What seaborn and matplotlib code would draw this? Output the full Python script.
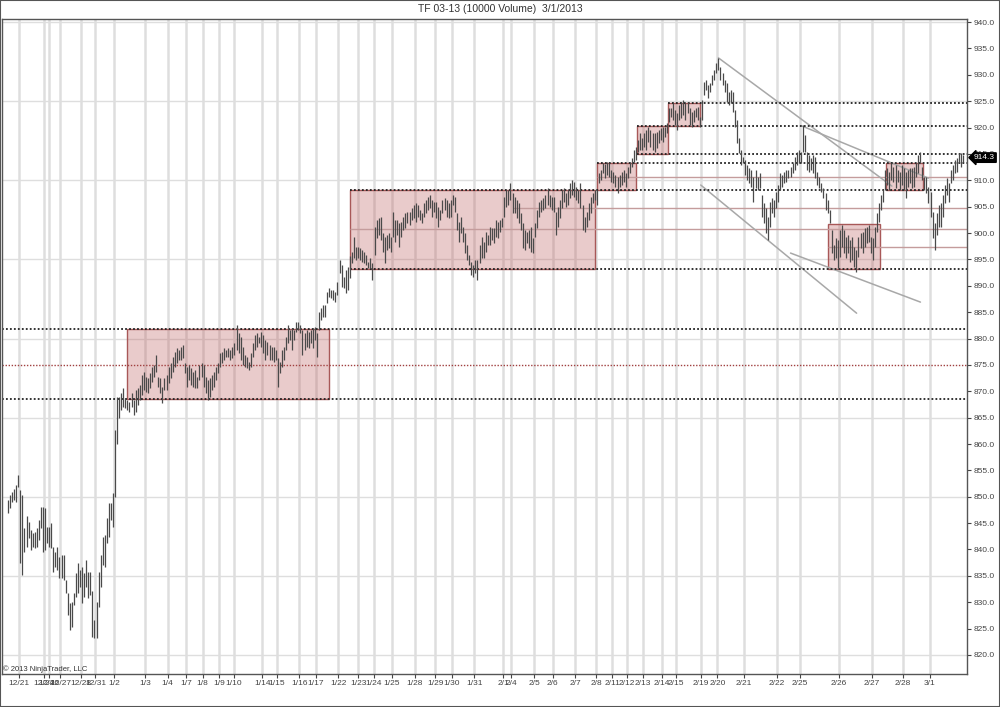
import numpy as np
import pandas as pd
import seaborn as sns
import matplotlib
matplotlib.use('Agg')
import matplotlib.pyplot as plt
from matplotlib.patches import Rectangle

title = 'TF 03-13 (10000 Volume)  3/1/2013'
copyright_text = '\u00a9 2013 NinjaTrader, LLC'
last_price = 914.3

# bar highs / lows (10000 volume bars)
highs = [
    849.4, 850.3, 850.9, 851.5, 852.2, 854.1, 851.3, 850.3, 844.1, 846.4,
    845.2, 843.7, 843.1, 843.3, 844.1, 845.6, 848.1, 848.1, 847.9, 844.3,
    844.3, 845.0, 840.5, 839.5, 840.5, 838.6, 839.0, 839.0, 834.2, 831.7,
    829.9, 830.0, 831.7, 835.5, 837.4, 836.1, 836.7, 835.5, 838.0, 835.7,
    835.7, 832.1, 826.6, 830.0, 835.7, 839.0, 842.4, 842.7, 846.0, 848.8,
    848.8, 850.7, 862.7, 869.0, 869.0, 869.7, 870.6, 868.7, 868.3, 868.0,
    869.7, 868.3, 870.2, 870.6, 871.2, 873.1, 873.6, 872.7, 872.5, 873.5,
    874.6, 875.0, 876.9, 872.7, 872.5, 870.8, 872.5, 873.1, 874.6, 875.4,
    876.5, 877.4, 878.2, 877.8, 878.4, 878.8, 875.4, 874.6, 875.0, 874.4,
    873.6, 874.0, 872.7, 875.0, 875.4, 875.0, 872.7, 872.1, 872.5, 873.1,
    873.6, 874.6, 875.4, 877.3, 877.4, 878.2, 877.8, 878.2, 877.8, 878.4,
    879.1, 882.6, 881.0, 880.3, 878.4, 876.9, 876.5, 875.5, 877.3, 879.1,
    880.7, 881.0, 880.3, 881.2, 880.7, 879.7, 879.3, 878.8, 878.4, 878.4,
    877.8, 876.3, 875.5, 877.8, 878.4, 880.3, 882.6, 881.6, 882.0, 881.6,
    883.1, 883.1, 882.6, 881.6, 881.0, 881.6, 881.2, 881.6, 882.0, 882.2,
    881.0, 885.0, 885.8, 886.4, 886.4, 888.8, 889.6, 889.2, 889.2, 888.8,
    890.7, 894.9, 894.0, 891.6, 893.0, 893.6, 895.6, 896.4, 899.2, 897.3,
    897.3, 897.1, 896.8, 896.4, 895.8, 894.5, 895.3, 894.3, 901.1, 902.5,
    902.8, 903.0, 900.0, 899.2, 899.6, 900.0, 899.2, 904.0, 902.5, 902.5,
    901.9, 902.1, 903.0, 903.8, 904.0, 904.0, 904.7, 905.3, 905.7, 905.3,
    904.4, 903.8, 905.7, 906.3, 906.8, 907.2, 906.3, 905.9, 905.9, 905.0,
    904.4, 906.3, 906.6, 906.3, 905.7, 906.3, 907.2, 906.8, 903.8, 902.1,
    903.0, 901.1, 900.0, 897.7, 895.8, 894.5, 893.9, 894.9, 894.9, 897.7,
    899.2, 898.3, 900.2, 899.6, 901.1, 900.9, 900.9, 902.5, 902.1, 902.5,
    902.8, 906.8, 908.2, 908.2, 909.5, 907.6, 906.8, 906.3, 905.7, 903.8,
    901.9, 900.6, 900.2, 900.6, 901.1, 899.0, 901.9, 904.4, 905.9, 906.3,
    906.6, 907.2, 908.5, 907.2, 906.8, 906.8, 904.0, 905.0, 906.3, 908.2,
    908.5, 907.6, 908.2, 909.5, 910.0, 909.7, 908.7, 908.2, 909.5, 905.3,
    903.0, 904.0, 905.7, 906.8, 907.6, 908.2, 908.2, 911.4, 911.9, 913.3,
    913.0, 913.5, 913.3, 911.9, 911.6, 911.0, 910.6, 911.0, 911.6, 911.9,
    911.4, 912.5, 913.5, 914.2, 915.7, 916.3, 917.6, 919.0, 918.0, 919.0,
    919.5, 920.1, 919.5, 919.0, 919.0, 919.2, 919.5, 919.9, 920.1, 920.1,
    920.9, 923.7, 923.7, 924.6, 923.3, 922.7, 924.3, 924.8, 925.2, 924.6,
    924.8, 923.7, 922.9, 923.3, 923.7, 923.9, 922.0, 925.2, 928.6, 929.0,
    928.1, 928.4, 930.0, 930.9, 932.2, 933.2, 931.5, 930.3, 929.0, 928.4,
    926.7, 927.1, 926.7, 923.3, 921.4, 918.0, 915.7, 914.4, 913.8, 912.9,
    912.3, 911.9, 910.6, 911.9, 910.6, 911.4, 907.2, 905.7, 904.7, 903.0,
    905.9, 906.6, 906.3, 907.8, 909.1, 911.4, 911.0, 911.6, 911.9, 911.9,
    912.5, 913.3, 914.4, 915.4, 915.7, 915.4, 920.5, 918.6, 915.4, 914.8,
    914.2, 914.8, 914.4, 911.6, 910.6, 909.5, 908.5, 907.6, 906.3, 904.4,
    900.6, 897.7, 899.0, 898.7, 900.6, 901.5, 900.6, 899.2, 899.6, 898.7,
    899.2, 897.3, 896.8, 899.2, 900.0, 900.2, 900.9, 901.1, 901.5, 899.2,
    899.0, 901.1, 903.8, 905.7, 907.2, 908.2, 912.0, 912.3, 911.6, 913.3,
    912.5, 912.9, 911.9, 911.6, 912.9, 912.3, 911.6, 911.9, 912.3, 912.3,
    912.5, 913.3, 914.8, 915.4, 912.5, 910.6, 910.6, 908.7, 907.8, 904.0,
    901.9, 903.8, 905.3, 905.7, 907.2, 909.1, 910.4, 909.5, 911.9, 912.9,
    913.8, 914.2, 915.2, 915.2, 914.8,
]
lows = [
    846.9, 847.9, 849.0, 849.4, 849.0, 851.8, 837.4, 835.2, 839.5, 840.5,
    842.2, 839.9, 840.5, 840.3, 840.5, 841.8, 844.1, 839.5, 839.9, 841.2,
    840.5, 840.3, 835.7, 836.7, 836.1, 834.6, 834.6, 834.2, 831.7, 827.6,
    824.7, 825.3, 829.5, 831.0, 831.7, 832.9, 829.9, 831.0, 832.9, 830.8,
    831.3, 823.4, 823.2, 823.2, 829.1, 832.9, 837.1, 836.7, 841.2, 842.4,
    845.6, 844.3, 850.0, 860.0, 864.9, 866.4, 867.0, 866.8, 866.4, 866.0,
    867.0, 865.5, 866.0, 867.4, 868.3, 869.3, 870.2, 869.9, 869.7, 870.6,
    871.8, 872.7, 873.6, 870.8, 869.7, 867.8, 870.2, 870.2, 871.6, 872.5,
    873.6, 874.6, 875.4, 875.9, 875.9, 876.3, 873.5, 870.8, 872.1, 871.2,
    870.8, 870.6, 870.6, 872.1, 872.7, 870.8, 869.7, 868.3, 868.9, 870.2,
    870.8, 872.1, 873.5, 874.6, 875.4, 875.9, 876.5, 876.5, 875.9, 876.3,
    876.9, 877.8, 877.3, 875.9, 875.0, 874.6, 874.4, 874.0, 874.6, 876.5,
    877.8, 878.4, 879.1, 878.4, 877.3, 875.9, 876.9, 875.9, 875.9, 875.5,
    875.9, 870.8, 873.5, 874.6, 875.9, 877.8, 879.1, 879.7, 877.8, 879.7,
    881.2, 881.6, 881.0, 876.9, 877.8, 878.4, 878.2, 879.1, 878.2, 879.7,
    876.5, 881.6, 883.5, 884.1, 884.1, 886.7, 887.9, 887.7, 887.3, 886.9,
    888.2, 892.4, 889.8, 889.6, 888.6, 889.2, 891.5, 894.3, 895.3, 894.9,
    895.3, 894.9, 894.5, 894.3, 893.9, 893.4, 893.4, 891.1, 895.8, 899.0,
    899.6, 898.7, 896.4, 894.3, 896.8, 897.1, 896.4, 899.2, 898.3, 899.6,
    897.3, 899.2, 900.6, 900.9, 901.9, 901.5, 902.5, 902.8, 902.1, 903.0,
    902.5, 901.9, 903.0, 903.8, 904.4, 904.7, 903.0, 904.0, 902.8, 901.1,
    902.5, 903.8, 904.4, 903.0, 902.8, 903.0, 905.3, 904.0, 900.6, 898.3,
    900.0, 898.3, 896.2, 894.9, 893.9, 892.0, 891.7, 892.4, 891.1, 894.3,
    895.3, 895.3, 896.4, 897.7, 897.7, 898.7, 898.1, 899.2, 899.0, 900.2,
    901.1, 903.0, 905.0, 905.3, 906.3, 903.8, 903.8, 902.8, 901.9, 900.6,
    897.2, 896.8, 898.1, 897.2, 896.4, 896.2, 899.2, 901.0, 903.0, 904.0,
    904.4, 904.7, 905.3, 905.0, 904.4, 904.0, 899.6, 901.1, 902.8, 904.7,
    905.9, 905.0, 905.3, 906.6, 907.2, 906.8, 906.3, 905.7, 904.7, 900.6,
    900.2, 901.1, 902.5, 903.8, 905.7, 906.3, 905.3, 909.5, 910.0, 911.4,
    910.4, 911.0, 910.6, 909.7, 909.5, 908.7, 907.6, 908.7, 909.1, 909.7,
    908.7, 910.4, 911.4, 912.5, 913.5, 913.8, 915.4, 915.7, 915.7, 916.3,
    915.7, 917.3, 916.3, 915.7, 915.4, 916.1, 917.1, 917.6, 917.3, 918.2,
    919.0, 921.0, 922.0, 921.4, 920.5, 919.5, 921.4, 921.8, 922.4, 921.4,
    922.7, 920.5, 920.1, 921.0, 922.0, 921.4, 920.1, 921.5, 926.2, 927.1,
    925.6, 926.7, 928.1, 929.0, 930.3, 930.9, 929.0, 928.1, 926.7, 924.8,
    924.3, 924.6, 922.9, 920.1, 917.1, 915.2, 912.9, 913.3, 911.0, 910.0,
    909.5, 908.7, 905.9, 908.5, 908.2, 908.5, 903.0, 901.9, 900.0, 898.7,
    901.1, 903.8, 903.0, 904.7, 905.9, 908.2, 908.7, 909.5, 909.7, 910.4,
    910.6, 911.4, 911.9, 912.9, 913.3, 913.3, 915.4, 915.4, 911.9, 911.6,
    911.9, 911.4, 910.4, 909.1, 908.5, 907.8, 906.6, 904.4, 903.8, 901.9,
    896.2, 894.9, 895.3, 893.4, 895.5, 897.3, 896.2, 895.3, 896.2, 894.5,
    894.9, 893.6, 892.6, 895.5, 897.1, 896.2, 897.3, 898.1, 898.3, 896.2,
    894.9, 897.3, 900.2, 902.1, 904.4, 905.9, 908.2, 909.1, 908.2, 910.0,
    909.7, 908.5, 909.7, 908.2, 909.1, 908.2, 906.6, 908.7, 909.5, 908.5,
    908.7, 910.6, 911.4, 913.3, 910.0, 908.2, 907.6, 905.7, 903.0, 899.0,
    896.8, 899.6, 901.1, 901.1, 903.0, 905.7, 907.2, 905.9, 909.5, 910.0,
    911.4, 911.6, 913.3, 912.5, 913.5,
]

# session breaks (in bar numbers) and their date labels
session_labels = ['12/21', '12/24', '12/26', '12/27', '12/28', '12/31', '1/2',
                  '1/3', '1/4', '1/7', '1/8', '1/9', '1/10', '1/14', '1/15',
                  '1/16', '1/17', '1/22', '1/23', '1/24', '1/25', '1/28',
                  '1/29', '1/30', '1/31', '2/1', '2/4', '2/5', '2/6', '2/7',
                  '2/8', '2/11', '2/12', '2/13', '2/14', '2/15', '2/19',
                  '2/20', '2/21', '2/22', '2/25', '2/26', '2/27', '2/28', '3/1']
session_starts = [5.5, 17.6, 19.8, 25.5, 35.5, 42.5, 51.5,
                  66.5, 77.5, 86.5, 94.5, 102.5, 109.7, 123.5, 130.5,
                  141.5, 149.5, 160.5, 170.0, 177.5, 186.5, 197.5,
                  207.5, 215.5, 226.5, 240.5, 244.5, 255.5, 264.5, 275.5,
                  285.5, 293.5, 300.5, 308.5, 317.5, 324.5, 336.5,
                  344.5, 357.5, 373.5, 384.5, 403.5, 419.5, 434.5, 447.5]

# consolidation boxes
box_left = [58.0, 166.3, 286.2, 305.5, 320.5, 398.0, 426.2]
box_right = [155.7, 285.0, 305.0, 320.5, 336.2, 423.6, 444.3]
box_low = [868.5, 893.1, 908.2, 915.0, 920.3, 893.1, 908.2]
box_high = [881.8, 908.2, 913.2, 920.3, 924.7, 901.7, 913.2]

# dotted support / resistance levels and where they start
level_prices = [881.8, 868.5, 908.2, 893.1, 913.2, 915.0, 920.3, 924.7]
level_starts = [-3.0, -3.0, 166.3, 166.3, 286.2, 305.5, 305.5, 320.5]
mid_level = 875.0

# thin box-midline levels
mid_prices = [910.6, 904.7, 900.8, 897.4]
mid_starts = [286.2, 245.0, 166.3, 398.0]

# trend lines
trend_x0 = [345.0, 385.5, 336.4, 380.0]
trend_y0 = [933.2, 920.3, 909.1, 896.2]
trend_x1 = [429.2, 447.0, 412.1, 443.1]
trend_y1 = [908.9, 910.4, 884.8, 886.9]

sns.set_theme(style='white')
plt.rcParams['font.family'] = ['Liberation Sans', 'DejaVu Sans']

df = pd.DataFrame({'bar': np.arange(len(highs)), 'high': highs, 'low': lows})

fig = plt.figure(figsize=(10, 7.07), dpi=100)
ax = fig.add_axes([0.002, 0.0467, 0.965, 0.9264])
x_min, x_max = -2.9, 465.7
ax.set_xlim(x_min, x_max)
ax.set_ylim(816.4, 940.57)

# grid
for y in np.arange(820, 941, 15):
    ax.axhline(y, color='#dedede', lw=1, zorder=0)
for x in session_starts:
    ax.axvline(x, color='#dedede', lw=1.8, zorder=0)

# boxes
for x0, x1, lo, hi in zip(box_left, box_right, box_low, box_high):
    ax.add_patch(Rectangle((x0, lo), x1 - x0, hi - lo,
                           facecolor=(0.74, 0.38, 0.38, 0.33),
                           edgecolor='#a85858', lw=1, zorder=1))

# levels
for p, s in zip(mid_prices, mid_starts):
    ax.hlines(p, s, x_max, color='#c49c9c', lw=1, zorder=1.5)
for p, s in zip(level_prices, level_starts):
    ax.hlines(p, s, x_max, color='#222222', lw=1.3,
              linestyles=(0, (1, 1.2)), zorder=2.5)
ax.hlines(mid_level, x_min, x_max, color='#a04040', lw=1,
          linestyles=(0, (1, 1.2)), zorder=2.5)

# trend lines
for a, b, c, d in zip(trend_x0, trend_y0, trend_x1, trend_y1):
    ax.plot([a, c], [b, d], color='#a8a8a8', lw=1.1, zorder=2)

# price bars
ax.vlines(df['bar'], df['low'], df['high'], color='#4a4a4a', lw=0.9, zorder=3)

# axes styling
ax.yaxis.tick_right()
ax.set_yticks(np.arange(820, 941, 5))
ax.set_yticklabels([f'{v:.1f}' for v in np.arange(820, 941, 5)])
ax.set_xticks(session_starts)
ax.set_xticklabels(session_labels)
ax.tick_params(axis='both', direction='out', length=3, width=0.8,
               colors='#444444', labelsize=6, pad=1.5)
ax.tick_params(axis='y', right=True, left=False)
ax.tick_params(axis='x', bottom=True)
for sp in ax.spines.values():
    sp.set_color('#555555')
    sp.set_linewidth(1)
ax.grid(False)

ax.annotate(f'{last_price:.1f}', xy=(1.0, last_price),
            xycoords=('axes fraction', 'data'), xytext=(5, 0),
            textcoords='offset points', ha='left', va='center',
            fontsize=6, color='white',
            bbox=dict(boxstyle='larrow,pad=0.15', fc='black', ec='black'))

fig.text(0.5, 1 - 9 / 707, title, ha='center', va='center', fontsize=7.5,
         color='#333333')
fig.text(0.003, 1 - 669 / 707, copyright_text, ha='left', va='center',
         fontsize=5.5, color='#333333')
fig.patches.append(Rectangle((0, 0), 1, 1, transform=fig.transFigure,
                             fill=False, edgecolor='#555555', lw=1.5))

fig.savefig('out.png', dpi=100)
